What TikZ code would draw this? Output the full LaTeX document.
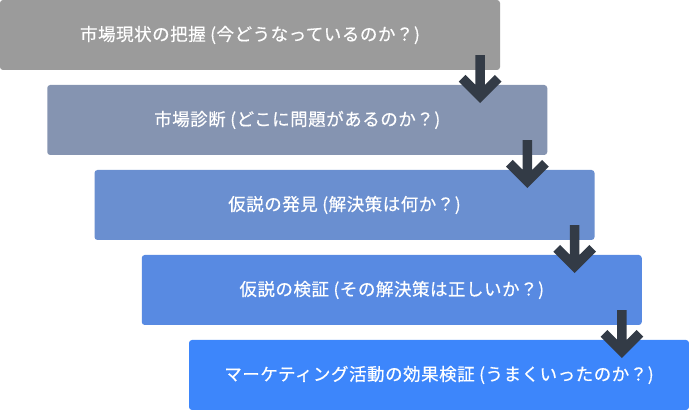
\documentclass[tikz,border=0pt]{standalone}
\usepackage{fontspec}
\setmainfont{Noto Sans CJK JP}[LetterSpace=3, FakeBold=0.5]
\usepackage{tikz}
\usetikzlibrary{positioning,calc}
\definecolor{gaugegray}{HTML}{9B9B9B}
\definecolor{stepslate}{HTML}{8594B1}
\definecolor{stepsteel}{HTML}{6A8FD0}
\definecolor{stepazure}{HTML}{588AE2}
\definecolor{stepblue}{HTML}{3D86FB}
\definecolor{arrowink}{HTML}{333B46}
\tikzset{
  stage/.style={rounded corners=3pt, minimum width=500pt, minimum height=70pt,
    inner sep=0pt, text=white, font=\fontsize{17.5}{20}\selectfont},
  stepflow/.style={draw=arrowink, line width=9.5pt, miter limit=10},
}

\begin{document}
\begin{tikzpicture}[x=1pt,y=1pt]
\useasboundingbox (0,0) rectangle (689,-411);
\node[stage, fill=gaugegray] (grasp)  at (250,-35)     {市場現状の把握 (今どうなっているのか？)};
\node[stage, fill=stepslate] (diag)   at (297.25,-120) {市場診断 (どこに問題があるのか？)};
\node[stage, fill=stepsteel] (hypo)   at (344.5,-205)  {仮説の発見 (解決策は何か？)};
\node[stage, fill=stepazure] (verify) at (391.75,-290) {仮説の検証 (その解決策は正しいか？)};
\node[stage, fill=stepblue]  (effect) at (439,-375)    {マーケティング活動の効果検証 (うまくいったのか？)};
% each arrow leaves the lower right of one stage and ends inside the next
\foreach \a/\b in {grasp/diag, diag/hypo, hypo/verify, verify/effect}{
  \coordinate (tip) at ([xshift=-67.25pt,yshift=-11.5pt]\b.north east);
  \draw[stepflow] ([xshift=-20pt,yshift=15pt]\a.south east) -- (tip) ++(-18,18) -- (tip) -- ++(18,18);
}
\end{tikzpicture}
\end{document}
